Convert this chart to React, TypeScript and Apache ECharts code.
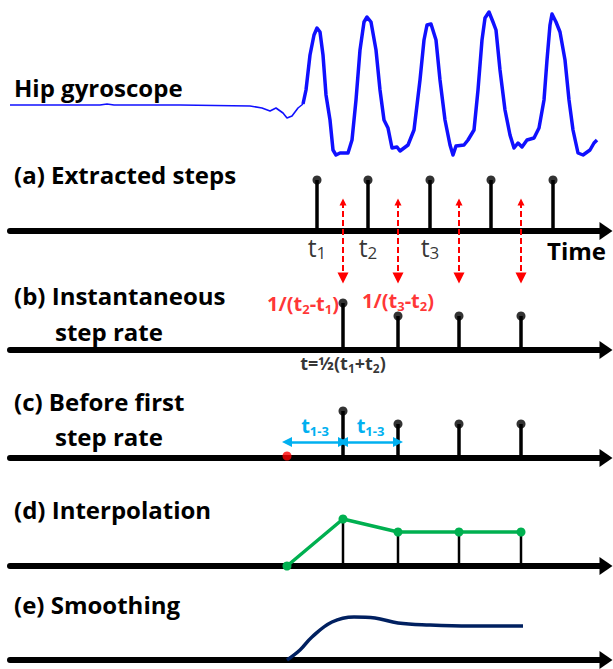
import React, { useEffect, useRef } from "react";
import * as echarts from "echarts";

const FONT = "'Open Sans', Lato, sans-serif";

// time range shared by every panel
const TIME_MIN = 10;
const TIME_MAX = 606;

// hip gyroscope signal (time, value)
const gyroTime = [10, 60, 100, 107, 114, 180, 250, 262, 270, 276, 283, 287, 292, 298, 303, 306, 310, 314, 317, 320, 323, 326, 330, 333, 336, 340, 348, 352, 356, 360, 364, 367, 371, 376, 380, 384, 388, 392, 397, 400, 408, 414, 420, 424, 427, 431, 436, 440, 445, 450, 453, 456, 464, 468, 474, 478, 482, 485, 489, 493, 496, 500, 505, 510, 514, 518, 522, 527, 534, 539, 544, 547, 550, 552, 556, 560, 565, 569, 573, 578, 583, 590, 594, 597];
const gyroValue = [0, 0, 0, 1, 0, 0, -1, -3, -6, -3, -8, -13, -11, -3, 1, 15, 50, 70, 77, 73, 50, 10, -15, -45, -50, -48, -48, -35, 5, 55, 83, 88, 83, 55, 15, -15, -23, -43, -42, -46, -40, -25, 25, 65, 80, 81, 65, 25, -15, -40, -50, -41, -40, -35, -25, 15, 65, 87, 93, 83, 75, 35, -5, -30, -43, -38, -42, -35, -33, -23, 5, 45, 80, 91, 83, 73, 45, 5, -25, -48, -50, -45, -38, -35];
const gyroSplitTime = 303;

// (a) extracted steps
const stepTimes = [317, 368, 430, 491, 553];
const stepHeight = 51;
const stepNames = ["1", "2", "3"];

// (b)-(d) step rate at mid-step times
const rateTimes = [343, 398, 459, 521];
const rateValues = [47, 34, 34, 34];
const firstRateTime = 287;

// (e) smoothed step rate
const smoothTime = [287, 300, 312, 332, 354, 375, 398, 430, 470, 523];
const smoothValue = [0, 10, 23, 38, 43, 42, 37, 35, 34, 34];

// dashed red connectors (in panel (a) units) and t1-3 span level in (c)
const connectorTop = 29;
const connectorBottom = -47;
const spanLevel = 16;

// layout
const PANEL_AXIS_Y = [231, 350, 458, 566, 660];
const PANEL_H = 60;

const titles: [string, number, number][] = [
  ["Hip gyroscope", 14, 87],
  ["(a) Extracted steps", 14, 174],
  ["(b) Instantaneous", 14, 295],
  ["step rate", 55, 331],
  ["(c) Before first", 14, 401],
  ["step rate", 55, 436],
  ["(d) Interpolation", 14, 509],
  ["(e) Smoothing", 14, 604],
  ["Time", 547, 250],
];

function buildOption() {
  const grids: any[] = [{ left: TIME_MIN, right: 613 - TIME_MAX, top: 0, height: 170 }];
  const xAxes: any[] = [
    { type: "value", gridIndex: 0, min: TIME_MIN, max: TIME_MAX, show: false },
  ];
  const yAxes: any[] = [{ type: "value", gridIndex: 0, min: -65, max: 105, show: false }];
  PANEL_AXIS_Y.forEach((y, i) => {
    const gi = i + 1;
    grids.push({ left: TIME_MIN, right: 613 - TIME_MAX, top: y - PANEL_H, height: PANEL_H });
    xAxes.push({
      type: "value",
      gridIndex: gi,
      min: TIME_MIN,
      max: TIME_MAX,
      axisLine: {
        show: true,
        symbol: ["none", "triangle"],
        symbolSize: [18, 13],
        lineStyle: { color: "#000", width: 6 },
      },
      axisTick: { show: false },
      axisLabel: { show: false },
      splitLine: { show: false },
    });
    yAxes.push({ type: "value", gridIndex: gi, min: 0, max: PANEL_H, show: false });
  });

  const sub = (size: number, color: string, weight: string) => ({
    t: { fontSize: size, color, fontWeight: weight, fontFamily: FONT, lineHeight: size + 4 },
    s: {
      fontSize: Math.round(size * 0.66),
      color,
      fontWeight: weight,
      fontFamily: FONT,
      verticalAlign: "bottom",
      lineHeight: Math.round(size * 0.66) + 2,
    },
  });

  const stems = (axis: number, times: number[], vals: number[], width: number) => ({
    type: "bar",
    xAxisIndex: axis,
    yAxisIndex: axis,
    data: times.map((t, i) => [t, vals[i]]),
    barWidth: width,
    itemStyle: { color: "#000" },
    z: 3,
  });
  const dots = (axis: number, times: number[], vals: number[]) => ({
    type: "scatter",
    xAxisIndex: axis,
    yAxisIndex: axis,
    data: times.map((t, i) => [t, vals[i]]),
    symbolSize: 9,
    itemStyle: { color: "#000" },
    z: 4,
  });

  const gyroThin = gyroTime
    .map((t, i) => [t, gyroValue[i]])
    .filter((p) => p[0] <= gyroSplitTime);
  const gyroThick = gyroTime
    .map((t, i) => [t, gyroValue[i]])
    .filter((p) => p[0] >= gyroSplitTime);

  const series: any[] = [
    {
      type: "line",
      xAxisIndex: 0,
      yAxisIndex: 0,
      data: gyroThin,
      symbol: "none",
      lineStyle: { color: "#1010ff", width: 1.6 },
    },
    {
      type: "line",
      xAxisIndex: 0,
      yAxisIndex: 0,
      data: gyroThick,
      symbol: "none",
      lineStyle: { color: "#1010ff", width: 3.5, join: "round" },
    },
    // (a)
    stems(1, stepTimes, stepTimes.map(() => stepHeight), 3.5),
    dots(1, stepTimes, stepTimes.map(() => stepHeight)),
    {
      type: "scatter",
      xAxisIndex: 1,
      yAxisIndex: 1,
      symbolSize: 0,
      itemStyle: { color: "#000" },
      data: stepNames.map((n, i) => ({
        value: [stepTimes[i], 0],
        label: { formatter: `{t|t}{s|${n}}` },
      })),
      label: {
        show: true,
        color: "#000",
        position: "bottom",
        distance: 1,
        rich: sub(25, "#000", "normal"),
      },
    },
    {
      type: "lines",
      coordinateSystem: "cartesian2d",
      xAxisIndex: 1,
      yAxisIndex: 1,
      clip: false,
      symbol: ["triangle", "triangle"],
      symbolSize: [7, 11],
      lineStyle: { color: "#ff0000", width: 2, type: [6, 3], opacity: 1 },
      data: rateTimes.map((t) => ({
        coords: [
          [t, connectorTop],
          [t, connectorBottom],
        ],
      })),
      z: 5,
    },
    // (b)
    stems(2, rateTimes, rateValues, 3.5),
    dots(2, rateTimes, rateValues),
    {
      type: "scatter",
      xAxisIndex: 2,
      yAxisIndex: 2,
      symbolSize: 0,
      itemStyle: { color: "#000" },
      data: [
        {
          value: [rateTimes[0], rateValues[0]],
          label: {
            position: "left",
            distance: 4,
            color: "#ff0000",
            formatter: "{t|1/(t}{s|2}{t|-t}{s|1}{t|)}",
            rich: sub(20, "#ff0000", "bold"),
          },
        },
        {
          value: [rateTimes[1], rateValues[1]],
          label: {
            position: "top",
            distance: 4,
            color: "#ff0000",
            formatter: "{t|1/(t}{s|3}{t|-t}{s|2}{t|)}",
            rich: sub(20, "#ff0000", "bold"),
          },
        },
        {
          value: [rateTimes[0], 0],
          label: {
            position: "bottom",
            distance: 2,
            color: "#000",
            formatter: "{t|t=½(t}{s|1}{t|+t}{s|2}{t|)}",
            rich: sub(18, "#000", "bold"),
          },
        },
      ],
      label: { show: true },
    },
    // (c)
    stems(3, rateTimes, rateValues, 3.5),
    dots(3, rateTimes, rateValues),
    {
      type: "scatter",
      xAxisIndex: 3,
      yAxisIndex: 3,
      data: [[firstRateTime, 2]],
      symbolSize: 9,
      itemStyle: { color: "#ff0000" },
      z: 6,
    },
    {
      type: "lines",
      coordinateSystem: "cartesian2d",
      xAxisIndex: 3,
      yAxisIndex: 3,
      clip: false,
      symbol: ["triangle", "triangle"],
      symbolSize: 10,
      lineStyle: { color: "#00b0f0", width: 2.5, opacity: 1 },
      label: {
        show: true,
        position: "middle",
        distance: 5,
        color: "#00b0f0",
        formatter: "{t|t}{s|1-3}",
        rich: sub(20, "#00b0f0", "bold"),
      },
      data: [
        { coords: [[firstRateTime, spanLevel], [rateTimes[0], spanLevel]] },
        { coords: [[rateTimes[0], spanLevel], [rateTimes[1], spanLevel]] },
      ],
      z: 5,
    },
    // (d)
    stems(4, rateTimes, rateValues, 2.5),
    {
      type: "line",
      xAxisIndex: 4,
      yAxisIndex: 4,
      data: [[firstRateTime, 0], ...rateTimes.map((t, i) => [t, rateValues[i]])],
      symbol: "circle",
      symbolSize: 9,
      showAllSymbol: true,
      itemStyle: { color: "#00b050" },
      lineStyle: { color: "#00b050", width: 3.5 },
      z: 5,
    },
    // (e)
    {
      type: "line",
      xAxisIndex: 5,
      yAxisIndex: 5,
      data: smoothTime.map((t, i) => [t, smoothValue[i]]),
      smooth: 0.4,
      symbol: "none",
      lineStyle: { color: "#002060", width: 3.5 },
      z: 5,
    },
  ];

  return {
    animation: false,
    backgroundColor: "#ffffff",
    grid: grids,
    xAxis: xAxes,
    yAxis: yAxes,
    series,
    graphic: titles.map(([text, x, y]) => ({
      type: "text",
      x,
      y,
      style: {
        text,
        fill: "#000",
        font: `bold 24px ${FONT}`,
        align: "left",
        verticalAlign: "middle",
        textAlign: "left",
        textVerticalAlign: "middle",
      },
    })),
  };
}

export default function App() {
  const ref = useRef<HTMLDivElement>(null);
  useEffect(() => {
    document.body.style.margin = "0";
    if (!ref.current) return;
    const chart = echarts.init(ref.current, undefined, { renderer: "svg" });
    chart.setOption(buildOption() as any);
    return () => chart.dispose();
  }, []);
  return <div ref={ref} style={{ width: 613, height: 669 }} />;
}
